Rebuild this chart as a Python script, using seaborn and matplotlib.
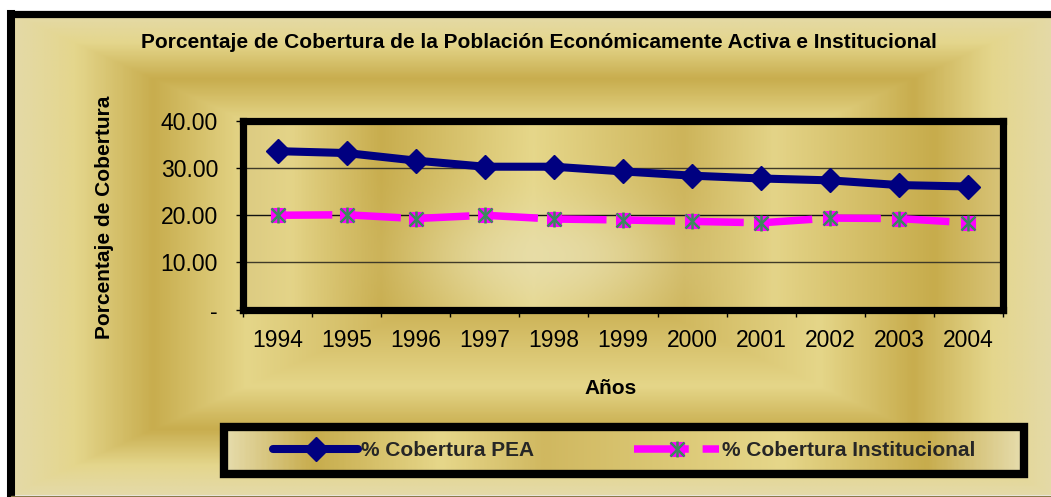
import numpy as np
import pandas as pd
import matplotlib
matplotlib.use("Agg")
import matplotlib.pyplot as plt
import seaborn as sns
from matplotlib.colors import LinearSegmentedColormap
from matplotlib.lines import Line2D
from matplotlib.patches import Rectangle

# ---------------- data ----------------
years = ["1994", "1995", "1996", "1997", "1998", "1999", "2000", "2001", "2002", "2003", "2004"]
pea = [33.6, 33.2, 31.6, 30.3, 30.3, 29.3, 28.4, 27.8, 27.4, 26.4, 26.1]
inst = [20.0, 20.1, 19.3, 20.0, 19.2, 19.0, 18.7, 18.4, 19.4, 19.3, 18.4]
ytick_values = [0, 10, 20, 30, 40]
ytick_labels = ["-", "10.00", "20.00", "30.00", "40.00"]
title = "Porcentaje de Cobertura de la Población Económicamente Activa e Institucional"
ylabel = "Porcentaje de Cobertura"
xlabel = "Años"
label_pea = "% Cobertura PEA"
label_inst = "% Cobertura Institucional"

df = pd.DataFrame({"idx": np.arange(len(years)), "pea": pea, "inst": inst})

sns.set_theme(style="white")
plt.rcParams["font.family"] = ["Liberation Sans", "DejaVu Sans"]

W, H = 1051, 497
fig = plt.figure(figsize=(W / 100, H / 100), dpi=100)
fig.patch.set_facecolor("white")


def fx(px):
    return px / W


def fy(py):
    return 1 - py / H


# ---------- background (rectangular gold gradient) ----------
gold_stops = [(0.0, "#E4DAA8"), (0.12, "#E4D68C"), (0.27, "#C8AD4E"),
              (0.45, "#E5D689"), (0.77, "#CCB256"), (1.0, "#E4DAA8")]
gold_cmap = LinearSegmentedColormap.from_list("gold", gold_stops)

bx0, by0, bx1, by1 = 11, 13, W + 5, 495
bg_ax = fig.add_axes([fx(bx0), fy(by1), fx(bx1 - bx0), (by1 - by0) / H], zorder=-5)
u = np.linspace(0, 1, 400)
v = np.linspace(0, 1, 300)
U, V = np.meshgrid(u, v)
T = 1 - 2 * np.maximum(np.abs(U - 0.5), np.abs(V - 0.5))
bg_ax.imshow(gold_cmap(T), aspect="auto", extent=[0, 1, 0, 1], interpolation="bilinear")
bg_ax.set_axis_off()

# outer frame
fig.add_artist(Line2D([fx(11), fx(11)], [fy(13.5), fy(495)], color="black", lw=5.8, transform=fig.transFigure, solid_capstyle="projecting"))
fig.add_artist(Line2D([fx(11), fx(W + 5)], [fy(13.5), fy(13.5)], color="black", lw=5.2, transform=fig.transFigure, solid_capstyle="projecting"))
fig.add_artist(Line2D([fx(11), fx(W + 5)], [fy(495.5), fy(495.5)], color="#8A7A48", lw=1.0, transform=fig.transFigure))

# ---------------- main axes ----------------
ax_l, ax_r, ax_t, ax_b = 243, 1003, 121, 309.5
ax = fig.add_axes([fx(ax_l), fy(ax_b), fx(ax_r - ax_l), (ax_b - ax_t) / H], zorder=1)
ax.set_facecolor("none")

# plot-area fill (vertical stripes + soft glow)
pa_stops = [(0.0, "#DCCB82"), (0.06, "#E4D488"), (0.18, "#C8AD4E"), (0.38, "#E6D78A"),
            (0.58, "#CDB45A"), (0.70, "#E4D488"), (0.91, "#C7AC4C"), (1.0, "#D8C478")]
pa_cmap = LinearSegmentedColormap.from_list("pa", pa_stops)
pu = np.linspace(0, 1, 500)
pv = np.linspace(0, 1, 200)
PU, PV = np.meshgrid(pu, pv)
rgb = pa_cmap(PU)[..., :3]
glow = np.exp(-((PU - 0.40) / 0.16) ** 2 - ((PV - 0.72) / 0.28) ** 2)[..., None]
glow_col = np.array([0xE8, 0xDF, 0xB0]) / 255
rgb = rgb * (1 - 0.75 * glow) + glow_col * 0.75 * glow
ax.imshow(rgb, aspect="auto", extent=[0, 1, 0, 1], transform=ax.transAxes, zorder=0, interpolation="bilinear")

# lines
sns.lineplot(data=df, x="idx", y="pea", ax=ax, color="#000080", lw=5.8,
             marker="D", markersize=12.5, markeredgecolor="#000080", markeredgewidth=1,
             zorder=4, legend=False)
h_pea = ax.lines[-1]

sns.lineplot(data=df, x="idx", y="inst", ax=ax, color="#FF00FF", lw=5.4,
             marker="s", markersize=10.5, markeredgecolor="#FF00FF", markerfacecolor="#FF00FF",
             zorder=3, legend=False)
h_inst = ax.lines[-1]
h_inst.set_dashes((7.3, 1.85))
h_inst.set_dash_capstyle("butt")

sns.lineplot(data=df, x="idx", y="inst", ax=ax, color="#3A8A5C", lw=0,
             marker="x", markersize=10, markeredgecolor="#3A8A5C", markeredgewidth=1.8,
             zorder=5, legend=False)
h_x = ax.lines[-1]
sns.lineplot(data=df, x="idx", y="inst", ax=ax, color="#3A8A5C", lw=0,
             marker="|", markersize=11, markeredgecolor="#3A8A5C", markeredgewidth=1.8,
             zorder=5, legend=False)
h_bar = ax.lines[-1]

ax.set_xlim(-0.5, len(years) - 0.5)
ax.set_ylim(0, 40)

# gridlines
for yv in ytick_values[1:-1]:
    ax.axhline(yv, color="#3F3A28" if yv != 20 else "#111111", lw=1.0, zorder=1)

# ticks
ax.set_yticks(ytick_values)
ax.set_yticklabels(ytick_labels)
ax.set_xticks(np.arange(-0.5, len(years), 1.0))
ax.set_xticklabels([])
ax.set_xticks(np.arange(len(years)), minor=True)
ax.set_xticklabels(years, minor=True)
ax.tick_params(axis="x", which="major", direction="out", length=5, width=1, color="black", bottom=True)
ax.tick_params(axis="x", which="minor", length=0, pad=14, labelsize=16.5, labelcolor="black")
ax.tick_params(axis="y", direction="out", length=5, width=1, color="black", left=True, pad=13,
               labelsize=16.5, labelcolor="black")
ax.set_xlabel("")
ax.set_ylabel("")
for s in ax.spines.values():
    s.set_visible(True)
    s.set_color("black")
    s.set_linewidth(5.2)
    s.set_zorder(6)

# texts
fig.text(fx(539), fy(42), title, ha="center", va="center", fontsize=15, fontweight="bold", color="black")
fig.text(fx(104), fy(217), ylabel, ha="center", va="center", rotation=90, fontsize=15, fontweight="bold", color="black")
fig.text(fx(611), fy(389), xlabel, ha="center", va="center", fontsize=15, fontweight="bold", color="black")

# ---------------- legend box ----------------
lg_x0, lg_y0, lg_x1, lg_y1 = 224, 427, 1024, 474
lg_ax = fig.add_axes([fx(lg_x0), fy(lg_y1), fx(lg_x1 - lg_x0), (lg_y1 - lg_y0) / H], zorder=2)
lg_stops = [(0.0, "#E6DCAC"), (0.11, "#C7AC4C"), (0.27, "#E6D78A"), (0.40, "#D0B860"),
            (0.70, "#E6D78A"), (0.88, "#C7AC4C"), (1.0, "#E6DCAC")]
lg_cmap = LinearSegmentedColormap.from_list("lg", lg_stops)
LU, LV = np.meshgrid(np.linspace(0, 1, 400), np.linspace(0, 1, 40))
lg_ax.imshow(lg_cmap(LU), aspect="auto", extent=[0, 1, 0, 1], interpolation="bilinear")
lg_ax.set_axis_off()
fig.add_artist(Rectangle((fx(lg_x0), fy(lg_y1)), fx(lg_x1 - lg_x0), (lg_y1 - lg_y0) / H,
                         transform=fig.transFigure, fill=False, edgecolor="black", lw=6, zorder=3))

leg = fig.legend(handles=[h_pea, (h_inst, h_x, h_bar)], labels=[label_pea, label_inst],
                 loc="center", bbox_to_anchor=(fx(624), fy(450.5)), ncol=2, frameon=False,
                 handlelength=4.1, handletextpad=0.12, columnspacing=4.8,
                 prop={"weight": "bold", "size": 15})
leg.set_zorder(4)

fig.savefig("out.png", dpi=100, facecolor="white")
